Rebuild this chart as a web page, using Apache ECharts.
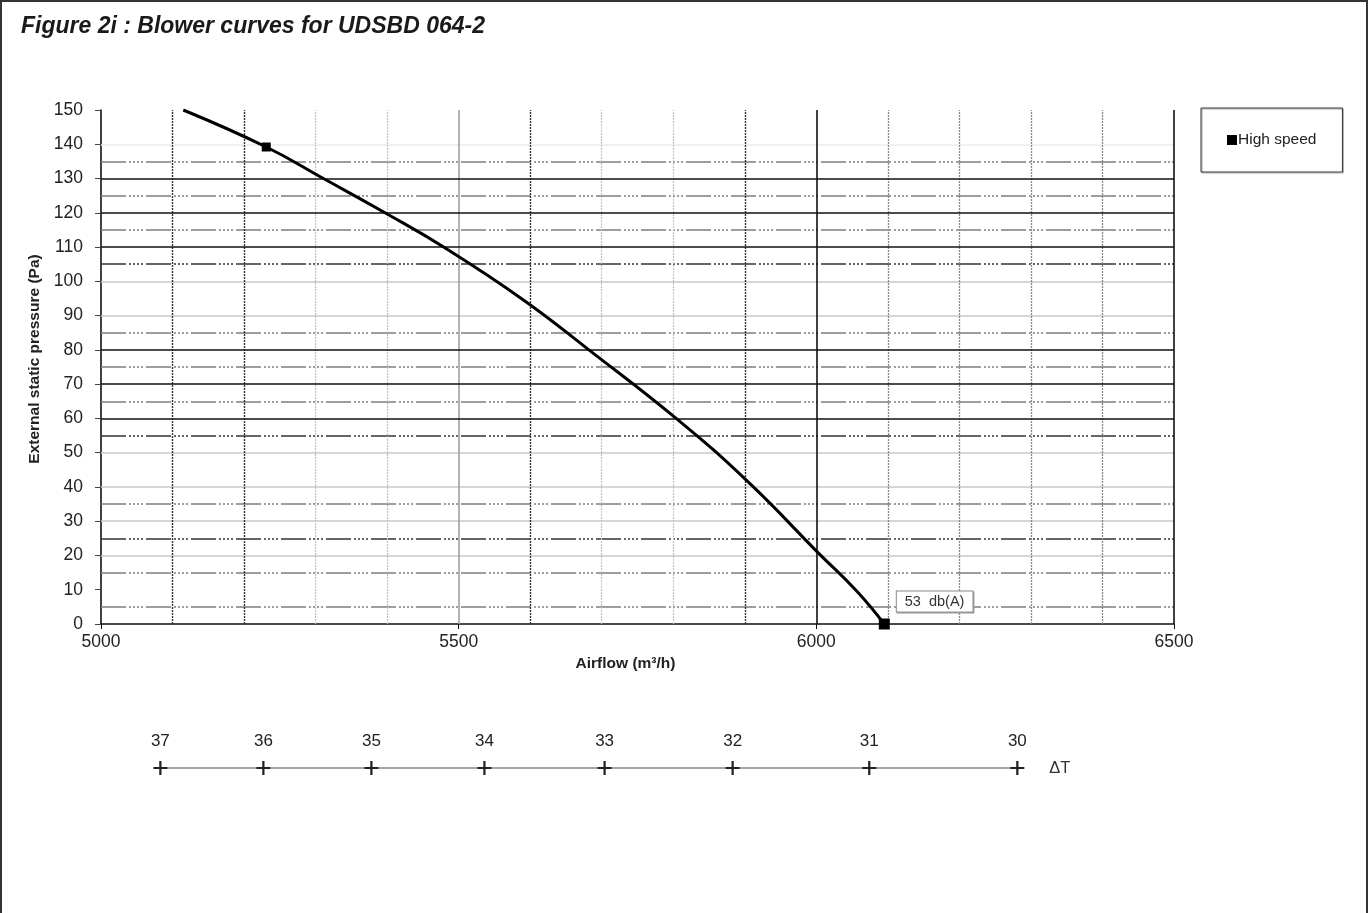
<!DOCTYPE html>
<html>
<head>
<meta charset="utf-8">
<script src="https://cdn.jsdelivr.net/npm/echarts@6/dist/echarts.min.js"></script>
<style>
  html, body { margin: 0; padding: 0; background: #fff; }
  #chart-container { width: 1368px; height: 913px; }
</style>
</head>
<body>
<div id="chart-container"></div>
<script>
// blower curve
var airflow  = [5115, 5231, 5311, 5397, 5479, 5591, 5682, 5804, 5905, 6003, 6057, 6095];
var pressure = [150, 139.2, 130, 120, 110, 94.5, 80, 60, 41.4, 20.7, 9.5, 0];
var markerIdx = [1, 11];
var endNote = '53  db(A)';

// delta T scale under the chart (value + airflow where its tick sits)
var dtLabels  = [37, 36, 35, 34, 33, 32, 31, 30];
var dtAirflow = [5083, 5227, 5378, 5536, 5704, 5883, 6074, 6281];

// grid lines as they appear in the scan
var hSolid    = [60, 70, 80, 110, 120, 130];
var hDashDark = [25, 55, 105];
var hDash     = [5, 15, 35, 65, 75, 85, 115, 125, 135];
var hLight    = [20, 30, 40, 50, 90, 100];
var hFaint    = [140];
var vDarkDot  = [5100, 5200, 5600, 5900];
var vLightDot = [5300, 5400, 5700, 5800];
var vGray     = [5500];
var vMidDot   = [6100, 6200, 6300, 6400];
var vDark     = [6000, 6500];

var font = "'Liberation Sans', Arial, sans-serif";
var dashDot = [25, 3, 2, 2, 2, 2, 2, 2, 2, 3];

var dom = document.getElementById('chart-container');
var myChart = echarts.init(dom, null, {renderer: 'canvas'});

function lines(axis, vals, style) {
  return vals.map(function (v) {
    var o = {lineStyle: style};
    o[axis] = v;
    return o;
  });
}

var gridLines = [].concat(
  lines('yAxis', hFaint, {color: '#ebebeb', width: 1.5, type: 'solid'}),
  lines('yAxis', hLight, {color: '#c8c8c8', width: 1.5, type: 'solid'}),
  lines('yAxis', hDash, {color: '#7d7d7d', width: 1.5, type: dashDot}),
  lines('yAxis', hDashDark, {color: '#333', width: 1.5, type: dashDot}),
  lines('xAxis', vLightDot, {color: '#c0c0c0', width: 1.2, type: [2, 1]}),
  lines('xAxis', vMidDot, {color: '#888', width: 1.3, type: [2, 1]}),
  lines('xAxis', vGray, {color: '#9a9a9a', width: 1.5, type: 'solid'}),
  lines('xAxis', vDarkDot, {color: '#333', width: 1.4, type: [2, 1]}),
  lines('yAxis', hSolid, {color: '#111', width: 1.5, type: 'solid'}),
  lines('xAxis', vDark, {color: '#111', width: 1.6, type: 'solid'})
);

var last = airflow.length - 1;
var curveData = airflow.map(function (x, i) {
  var item = {value: [x, pressure[i]], symbol: 'none'};
  if (markerIdx.indexOf(i) >= 0) {
    item.symbol = 'rect';
    item.symbolSize = i === last ? 11 : 9;
  }
  if (i === last) {
    item.label = {
      show: true,
      formatter: endNote,
      position: [18, -27],
      fontSize: 14.5,
      fontFamily: font,
      color: '#333',
      backgroundColor: '#fff',
      borderColor: '#888',
      borderWidth: 1,
      padding: [3, 8, 2, 8],
      shadowColor: '#999',
      shadowOffsetX: 1,
      shadowOffsetY: 1
    };
  }
  return item;
});

option = {
  animation: false,
  title: {
    text: 'Figure 2i : Blower curves for UDSBD 064-2',
    left: 16, top: 10,
    textStyle: {fontSize: 23, fontWeight: 'bold', fontStyle: 'italic', color: '#1a1a1a', fontFamily: font}
  },
  legend: {
    data: ['High speed'],
    left: 1201, top: 108,
    padding: [24, 26, 24, 26],
    borderColor: '#333', borderWidth: 1,
    shadowColor: '#aaa', shadowOffsetX: 1, shadowOffsetY: 1,
    icon: 'rect', itemWidth: 10, itemHeight: 10,
    textStyle: {fontSize: 15.5, color: '#222', fontFamily: font, padding: [0, 0, 0, -4]}
  },
  graphic: [{
    type: 'rect',
    shape: {x: 1, y: 1, width: 1366, height: 1000},
    style: {fill: 'none', stroke: '#333', lineWidth: 2},
    silent: true
  }],
  grid: [
    {left: 101, right: 194, top: 110, bottom: 289},
    {left: 101, right: 194, top: 767, height: 2}
  ],
  xAxis: [
    {
      gridIndex: 0, type: 'value', min: 5000, max: 6500, interval: 500,
      name: 'Airflow (m³/h)', nameLocation: 'middle', nameGap: 30,
      nameTextStyle: {fontSize: 15.5, fontWeight: 'bold', color: '#222', fontFamily: font, padding: [0, 24, 0, 0]},
      axisLine: {lineStyle: {color: '#111', width: 1.6}},
      axisTick: {show: true, length: 5, lineStyle: {color: '#111'}},
      axisLabel: {fontSize: 17.5, color: '#222', fontFamily: font, margin: 9, formatter: function (v) { return String(v); }},
      splitLine: {show: false}
    },
    {gridIndex: 1, type: 'value', min: 5000, max: 6500, show: false}
  ],
  yAxis: [
    {
      gridIndex: 0, type: 'value', min: 0, max: 150, interval: 10,
      name: 'External static pressure (Pa)', nameLocation: 'middle', nameGap: 58,
      nameTextStyle: {fontSize: 15.5, fontWeight: 'bold', color: '#222', fontFamily: font, padding: [0, 0, 0, 16]},
      axisLine: {show: true, lineStyle: {color: '#111', width: 1.6}},
      axisTick: {show: true, length: 6, lineStyle: {color: '#444'}},
      axisLabel: {fontSize: 17.5, color: '#222', fontFamily: font, margin: 18},
      splitLine: {show: false}
    },
    {gridIndex: 1, type: 'value', min: 0, max: 2, show: false}
  ],
  series: [
    {
      name: 'grid', type: 'line', data: [], z: 1,
      markLine: {silent: true, symbol: ['none', 'none'], label: {show: false}, data: gridLines}
    },
    {
      name: 'High speed', type: 'line', z: 5,
      smooth: 0.45,
      data: curveData,
      lineStyle: {color: '#000', width: 3},
      itemStyle: {color: '#000'}
    },
    {
      name: 'ΔT', type: 'line', xAxisIndex: 1, yAxisIndex: 1,
      data: dtAirflow.map(function (x, i) { return {value: [x, 1], name: String(dtLabels[i])}; }),
      lineStyle: {color: '#888', width: 1.5},
      symbol: 'path://M4.2,0 H5.8 V4.2 H10 V5.8 H5.8 V10 H4.2 V5.8 H0 V4.2 H4.2 Z',
      symbolSize: 14,
      itemStyle: {color: '#222'},
      label: {show: true, position: 'top', distance: 11, formatter: '{b}', fontSize: 17, color: '#222', fontFamily: font},
      endLabel: {show: true, formatter: 'ΔT', distance: 32, fontSize: 16.5, color: '#333', fontFamily: font}
    }
  ]
};

myChart.setOption(option);
window.addEventListener('resize', myChart.resize);
</script>
</body>
</html>
